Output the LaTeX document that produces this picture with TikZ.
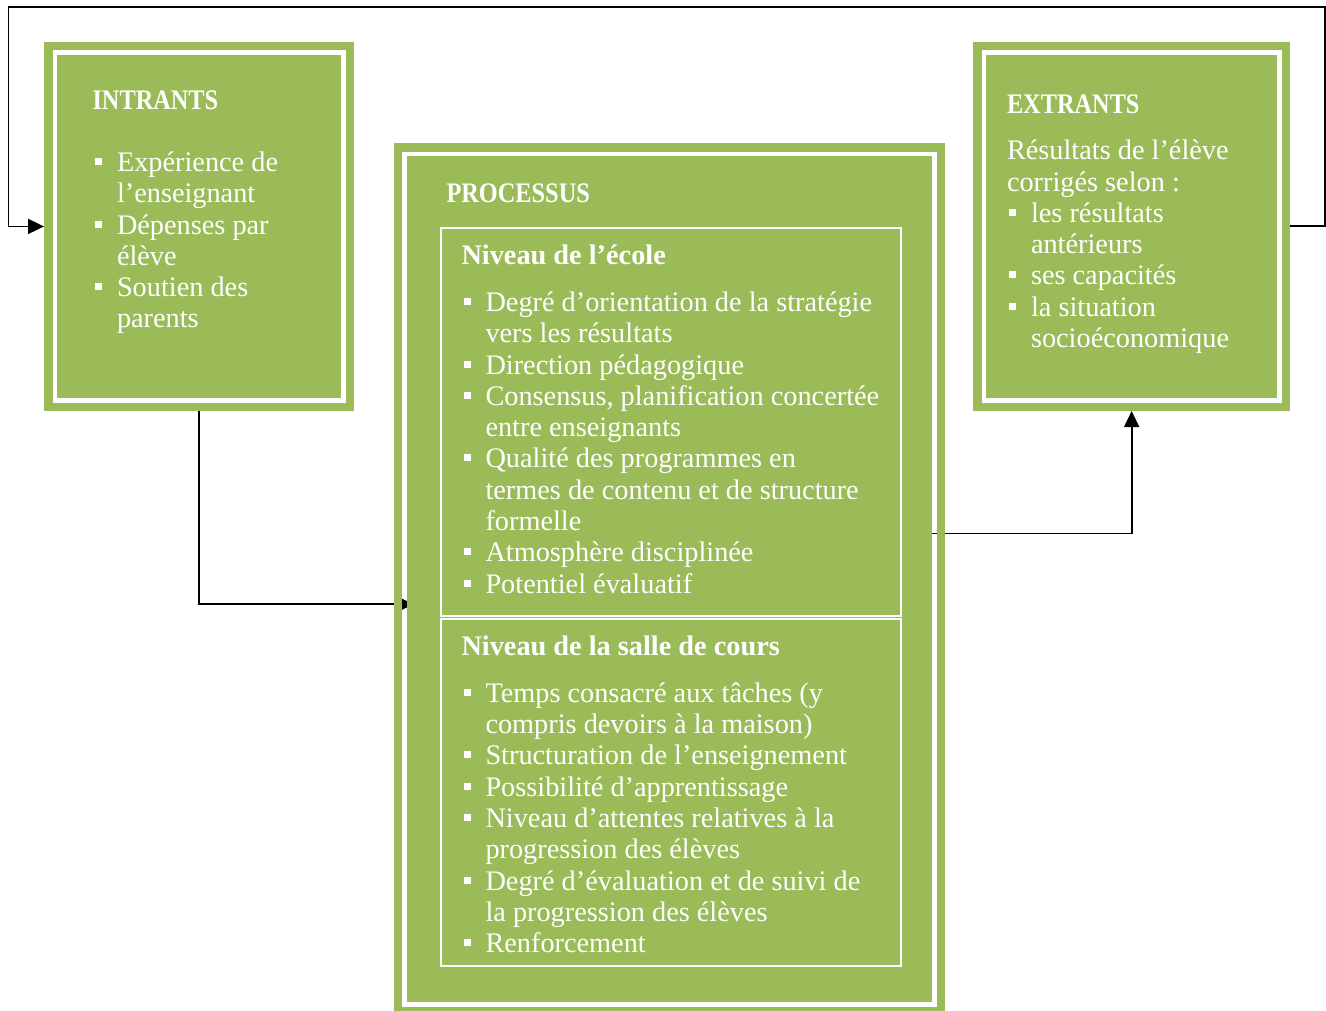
\documentclass[tikz,border=0pt]{standalone}
\usepackage{fontspec}
\usepackage{graphicx}
\setmainfont{Liberation Serif}
\usetikzlibrary{arrows.meta}
\definecolor{olive}{HTML}{9BBB59}
\tikzset{
  x=1pt, y=1pt,
  conn/.style={draw=black, line width=1.8pt},
  tipped/.style={-{Triangle[length=16pt,width=15pt]}},
  boxarea/.style={inner sep=0pt, outer sep=0pt, anchor=north west, draw=none, fill=none},
  band/.style={draw=olive, line width=8.5pt},
  inbox/.style={draw=white, line width=1.8pt, inner sep=0pt, outer sep=0pt, anchor=north west},
  txt/.style={anchor=base west, inner sep=0pt, outer sep=0pt, yshift=-1.5pt, text=white, font=\fontsize{28.3pt}{31.3pt}\selectfont},
}
\newcommand\bul{\makebox[24pt][l]{\hspace{2pt}\rule[6.5pt]{7pt}{7pt}}}
\newcommand\cnt{\hspace*{24pt}}
\newcommand\capsh[1]{\scalebox{0.86}[1]{\bfseries #1}}
\newcommand\blk[1]{\parbox[t]{520pt}{\fontsize{28.3pt}{31.3pt}\selectfont #1}}
\newcommand\greenframe[1]{%
  \draw[band] ([shift={(4.25pt,-4.25pt)}]#1.north west) rectangle ([shift={(-4.25pt,4.25pt)}]#1.south east);
  \fill[olive] ([shift={(13pt,-13pt)}]#1.north west) rectangle ([shift={(-13pt,13pt)}]#1.south east);
}
\begin{document}
\begin{tikzpicture}
\useasboundingbox (0,0) rectangle (1326,-1011);
\clip (0,0) rectangle (1326,-1011);
\fill[white] (0,0) rectangle (1326,-1011);

% box areas
\node[boxarea, minimum width=310pt, minimum height=369.5pt] (intr) at (44,-41.7) {};
\node[boxarea, minimum width=551.5pt, minimum height=871.9pt] (proc) at (393.5,-143.3) {};
\node[boxarea, minimum width=316.7pt, minimum height=369.3pt] (extr) at (973.3,-41.7) {};

% connectors (drawn behind the boxes)
\coordinate (fbR) at (1325,-7);
\coordinate (fbL) at (8.5,-7);
\draw[conn,tipped] (extr.east) -| (fbR) -- (fbL) |- (intr.west);
\draw[conn,tipped] (intr.south) |- ([shift={(20pt,-25pt)}]proc.west);
\draw[conn,tipped] ([shift={(-20pt,45.75pt)}]proc.east) -| (extr.south);

% green boxes with gap frame
\greenframe{intr}
\greenframe{proc}
\greenframe{extr}

% inner boxes of PROCESSUS
\node[inbox, minimum width=460pt, minimum height=388pt] (ecole) at (441,-228.3) {};
\node[inbox, minimum width=460pt, minimum height=346.4pt] (salle) at (441,-619.3) {};

% INTRANTS
\node[txt] (tI) at (92.5,-108.3) {\capsh{INTRANTS}};
\node[txt] (lI) at (93,-170) {\blk{\bul Expérience de\\
\cnt l’enseignant\\
\bul Dépenses par\\
\cnt élève\\
\bul Soutien des\\
\cnt parents}};

% PROCESSUS
\node[txt] (tP) at (446.5,-201) {\capsh{PROCESSUS}};
\node[txt] (tE) at (461.5,-263.3) {\bfseries Niveau de l’école};
\node[txt] (lE) at (461.5,-310) {\blk{\bul Degré d’orientation de la stratégie\\
\cnt vers les résultats\\
\bul Direction pédagogique\\
\bul Consensus, planification concertée\\
\cnt entre enseignants\\
\bul Qualité des programmes en\\
\cnt termes de contenu et de structure\\
\cnt formelle\\
\bul Atmosphère disciplinée\\
\bul Potentiel évaluatif}};
\node[txt] (tS) at (461.5,-654) {\bfseries Niveau de la salle de cours};
\node[txt] (lS) at (461.5,-700.7) {\blk{\bul Temps consacré aux tâches (y\\
\cnt compris devoirs à la maison)\\
\bul Structuration de l’enseignement\\
\bul Possibilité d’apprentissage\\
\bul Niveau d’attentes relatives à la\\
\cnt progression des élèves\\
\bul Degré d’évaluation et de suivi de\\
\cnt la progression des élèves\\
\bul Renforcement}};

% EXTRANTS
\node[txt] (tX) at (1007,-111.7) {\capsh{EXTRANTS}};
\node[txt] (lX) at (1007,-158.3) {\blk{Résultats de l’élève\\
corrigés selon~:\\
\bul les résultats\\
\cnt antérieurs\\
\bul ses capacités\\
\bul la situation\\
\cnt socioéconomique}};
\end{tikzpicture}
\end{document}
